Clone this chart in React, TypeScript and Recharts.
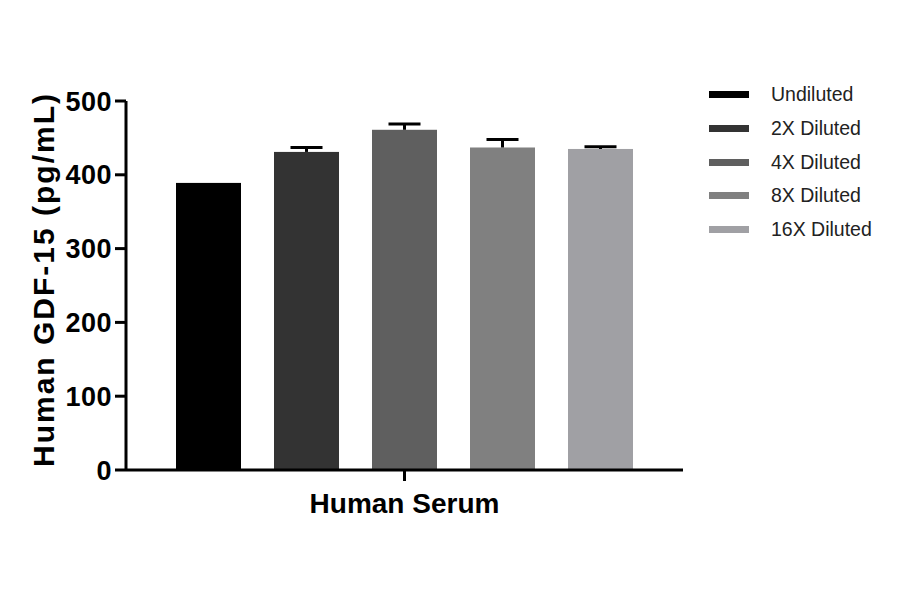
import React from 'react';
import { BarChart, Bar, XAxis, YAxis, Legend } from 'recharts';

const categories = ['Human Serum'];
const seriesNames = ['Undiluted', '2X Diluted', '4X Diluted', '8X Diluted', '16X Diluted'];
const seriesKeys = ['undiluted', 'd2x', 'd4x', 'd8x', 'd16x'];
const seriesValues = [389, 431, 461, 437, 435];
const seriesErrors = [0, 6, 8, 11, 3];
const seriesColors = ['#000000', '#333333', '#5f5f5f', '#808080', '#a0a0a4'];
const yTicks = [0, 100, 200, 300, 400, 500];

const data = categories.map((c) => {
  const row: any = { name: c };
  seriesKeys.forEach((k, i) => {
    row[k] = seriesValues[i];
    row[k + '_err'] = seriesErrors[i];
  });
  return row;
});

const FONT = '"Liberation Sans", Arial, sans-serif';

const makeShape = (key: string, color: string) => (props: any) => {
  const { x, y, width, height, payload } = props;
  const v = payload[key];
  const err = payload[key + '_err'] || 0;
  const pxPer = v ? height / v : 0;
  const e = err * pxPer;
  const cx = x + width / 2;
  return (
    <g>
      <rect x={x} y={y} width={width} height={height} fill={color} />
      {err > 0 && (
        <g stroke="#000" strokeWidth={3}>
          <line x1={cx} x2={cx} y1={y} y2={y - e} />
          <line x1={cx - 16} x2={cx + 16} y1={y - e} y2={y - e} />
        </g>
      )}
    </g>
  );
};

const LegendContent = () => (
  <div style={{ position: 'relative', width: 190, height: 180 }}>
    {seriesNames.map((n, i) => (
      <div key={n} style={{ position: 'absolute', left: 0, top: i * 33.75, width: 190, height: 20 }}>
        <div style={{ position: 'absolute', left: 0, top: 4, width: 40, height: 7, background: seriesColors[i] }} />
        <div style={{ position: 'absolute', left: 62, top: -4, fontFamily: FONT, fontSize: 19.5, color: '#222', whiteSpace: 'nowrap' }}>{n}</div>
      </div>
    ))}
  </div>
);

export default function App() {
  return (
    <div style={{ position: 'absolute', left: 0, top: 0, width: 900, height: 594, background: '#fff' }}>
      <BarChart
        width={900}
        height={594}
        data={data}
        margin={{ top: 101, right: 217, bottom: 64, left: 0 }}
        barGap={33}
        barSize={65}
      >
        <XAxis
          dataKey="name"
          tickLine={{ stroke: '#000', strokeWidth: 3 }}
          axisLine={{ stroke: '#000', strokeWidth: 3 }}
          tickSize={11}
          tickFormatter={() => ''}
          height={60}
          label={{ value: 'Human Serum', position: 'insideBottom', offset: 17, style: { fontFamily: FONT, fontSize: 28, fontWeight: 'bold', fill: '#000' } }}
        />
        <YAxis
          domain={[0, 500]}
          ticks={yTicks}
          interval={0}
          width={126}
          tickSize={11}
          tickMargin={3}
          axisLine={{ stroke: '#000', strokeWidth: 3 }}
          tickLine={{ stroke: '#000', strokeWidth: 3 }}
          tick={{ fontFamily: FONT, fontSize: 27, fontWeight: 'bold', fill: '#000', letterSpacing: 0.5 }}
          label={{ value: 'Human GDF-15 (pg/mL)', angle: -90, position: 'insideLeft', offset: 0, dx: 43, dy: -6, style: { textAnchor: 'middle', fontFamily: FONT, fontSize: 30, fontWeight: 'bold', fill: '#000', letterSpacing: 2 } }}
        />
        <Legend
          layout="horizontal"
          verticalAlign="middle"
          align="center"
          content={<LegendContent />}
          wrapperStyle={{ position: 'absolute', left: 709, top: 87, width: 190, height: 180 }}
        />
        {seriesKeys.map((k, i) => (
          <Bar
            key={k}
            dataKey={k}
            name={seriesNames[i]}
            fill={seriesColors[i]}
            isAnimationActive={false}
            shape={makeShape(k, seriesColors[i])}
          />
        ))}
      </BarChart>
    </div>
  );
}
